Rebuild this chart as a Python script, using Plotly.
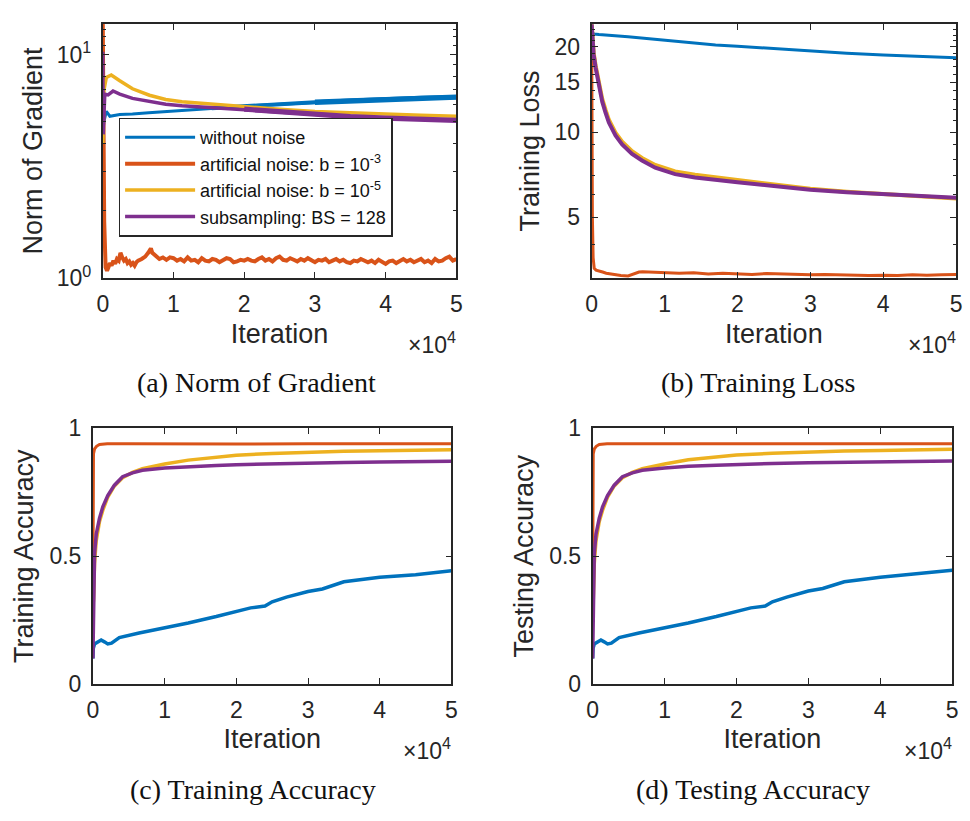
import plotly.graph_objects as go

# ---------------- data ----------------
series_names = ["without noise", "artificial noise: b = 10<sup>-3</sup>",
                "artificial noise: b = 10<sup>-5</sup>", "subsampling: BS = 128"]
colors = ["#0072BD", "#D95319", "#EDB120", "#7E2F8E"]

x_ticks = [0, 10000, 20000, 30000, 40000, 50000]
x_tick_text = ["0", "1", "2", "3", "4", "5"]

# (a) Norm of Gradient
a_blue_x = [0, 150, 500, 1000, 2400, 4200, 6500, 8900, 12000, 15400, 20000, 25000, 30000, 35000, 40000, 45000, 50000]
a_blue_y = [4.4, 5.0, 5.57, 5.3, 5.4, 5.42, 5.5, 5.57, 5.66, 5.76, 5.88, 6.0, 6.12, 6.22, 6.32, 6.4, 6.45]
a_orange_x = [0, 100, 200, 400, 600, 800, 1000, 1250, 1500, 1750, 2000, 2250, 2500, 2750, 3000, 3250, 3500, 3750,
              4000, 4250, 4500, 4750, 5000, 5500, 6000, 6500, 6800, 7000, 7500, 8000, 8500, 9000, 9500] + \
             list(range(10000, 50001, 500))
a_orange_y = [13.7, 5.0, 1.8, 1.12, 1.08, 1.12, 1.17, 1.14, 1.2, 1.16, 1.22, 1.2, 1.3, 1.24, 1.2, 1.22, 1.17, 1.19,
              1.15, 1.17, 1.14, 1.18, 1.2, 1.22, 1.25, 1.31, 1.36, 1.3, 1.26, 1.22, 1.24, 1.21, 1.24,
              1.23, 1.2, 1.22, 1.19, 1.24, 1.2, 1.21, 1.18, 1.23, 1.2, 1.19, 1.22, 1.21, 1.18, 1.2, 1.23, 1.22,
              1.18, 1.19, 1.21, 1.2, 1.22, 1.2, 1.19, 1.22, 1.24, 1.2, 1.22, 1.19, 1.23, 1.25, 1.21, 1.2, 1.23,
              1.21, 1.19, 1.22, 1.2, 1.23, 1.2, 1.18, 1.21, 1.2, 1.22, 1.18, 1.2, 1.22, 1.19, 1.21, 1.18, 1.17,
              1.2, 1.19, 1.22, 1.2, 1.18, 1.2, 1.17, 1.21, 1.19, 1.16, 1.19, 1.2, 1.17, 1.19, 1.22, 1.19, 1.21,
              1.18, 1.2, 1.22, 1.18, 1.2, 1.17, 1.22, 1.19, 1.2, 1.23, 1.25, 1.2, 1.22]
a_yellow_x = [0, 150, 500, 1200, 2400, 4200, 6600, 8900, 11200, 15400, 20000, 25000, 30000, 35000, 40000, 45000, 50000]
a_yellow_y = [4.0, 6.9, 7.9, 8.1, 7.64, 7.03, 6.58, 6.3, 6.15, 6.0, 5.85, 5.7, 5.56, 5.48, 5.4, 5.35, 5.3]
a_purple_x = [0, 60, 280, 750, 1450, 2400, 4200, 6600, 8900, 11200, 15400, 20000, 25000, 30000, 35000, 40000, 45000, 50000]
a_purple_y = [10.3, 4.4, 6.65, 6.6, 6.87, 6.65, 6.37, 6.15, 6.0, 5.9, 5.78, 5.7, 5.55, 5.4, 5.28, 5.2, 5.13, 5.08]

# (b) Training Loss
b_blue_x = [0, 100, 300, 1000, 5000, 10000, 17000, 20000, 25000, 30000, 35000, 40000, 45000, 50000]
b_blue_y = [24, 22.5, 22.2, 22.1, 21.7, 21.1, 20.3, 20.1, 19.7, 19.3, 19.0, 18.7, 18.5, 18.3]
b_orange_x = [0, 40, 100, 200, 350, 600, 1000, 1500, 2000, 3000, 4000, 5000, 5500, 6000, 6500, 7000, 8000, 9000,
              10000] + list(range(12000, 50001, 2000))
b_orange_y = [24, 10, 5, 3.6, 3.3, 3.25, 3.22, 3.2, 3.17, 3.14, 3.11, 3.1, 3.13, 3.17, 3.2, 3.21, 3.2, 3.19, 3.18,
              3.17, 3.18, 3.15, 3.17, 3.16, 3.14, 3.16, 3.15, 3.15, 3.13, 3.14, 3.13, 3.12, 3.11, 3.12, 3.11,
              3.13, 3.12, 3.13, 3.14]
b_curve_x = [0, 90, 270, 540, 1000, 1450, 1900, 2360, 3270, 4180, 5540, 6900, 8720, 10000, 11450, 14180, 17130,
             20000, 25000, 30000, 35000, 40000, 45000, 50000]
b_yellow_y = [24, 21.0, 19.1, 17.2, 14.7, 13.1, 12.0, 11.05, 9.95, 9.25, 8.55, 8.1, 7.65, 7.44, 7.26, 7.06, 6.92,
              6.78, 6.55, 6.3, 6.15, 6.04, 5.94, 5.82]
b_purple_y = [24, 20.8, 18.8, 16.9, 14.4, 12.8, 11.7, 10.8, 9.73, 9.04, 8.36, 7.93, 7.48, 7.28, 7.10, 6.91, 6.76,
              6.64, 6.45, 6.25, 6.13, 6.03, 5.95, 5.86]

# (c) Training Accuracy / (d) Testing Accuracy
acc_orange_x = [0, 30, 80, 230, 500, 920, 2000, 5000, 10000, 20000, 30000, 40000, 50000]
c_orange_y = [0.36, 0.75, 0.9, 0.92, 0.93, 0.937, 0.94, 0.94, 0.939, 0.939, 0.94, 0.94, 0.94]
d_orange_y = [0.35, 0.75, 0.9, 0.92, 0.93, 0.937, 0.94, 0.94, 0.939, 0.94, 0.94, 0.94, 0.94]
acc_curve_x = [0, 90, 230, 460, 920, 1380, 2070, 3000, 4140, 5520, 6900, 10000, 13300, 17200, 20000, 25000, 30000,
               35000, 40000, 45000, 50000]
c_yellow_y = [0.3, 0.333, 0.472, 0.56, 0.636, 0.68, 0.731, 0.775, 0.807, 0.828, 0.842, 0.861, 0.876, 0.889, 0.895,
              0.902, 0.907, 0.911, 0.913, 0.915, 0.917]
c_purple_y = [0.1, 0.3, 0.51, 0.586, 0.649, 0.693, 0.737, 0.778, 0.811, 0.826, 0.836, 0.845, 0.851, 0.855, 0.858,
              0.862, 0.865, 0.867, 0.869, 0.871, 0.872]
d_yellow_y = [0.3, 0.333, 0.472, 0.56, 0.636, 0.68, 0.731, 0.775, 0.807, 0.828, 0.842, 0.861, 0.877, 0.89, 0.896,
              0.903, 0.908, 0.912, 0.914, 0.916, 0.918]
d_purple_y = [0.1, 0.3, 0.51, 0.586, 0.649, 0.693, 0.737, 0.778, 0.811, 0.826, 0.836, 0.845, 0.852, 0.856, 0.859,
              0.863, 0.866, 0.868, 0.870, 0.872, 0.873]
acc_blue_x = [0, 60, 230, 700, 1150, 1600, 2070, 2600, 3680, 6440, 10000, 13300, 17200, 20000, 22000, 24000, 25000,
              27000, 30000, 32000, 35000, 40000, 45000, 50000]
c_blue_y = [0.1, 0.14, 0.157, 0.165, 0.172, 0.165, 0.157, 0.16, 0.182, 0.2, 0.22, 0.239, 0.264, 0.285, 0.298,
            0.305, 0.322, 0.34, 0.362, 0.372, 0.40, 0.418, 0.428, 0.443]
d_blue_y = [0.1, 0.14, 0.157, 0.165, 0.172, 0.165, 0.157, 0.16, 0.182, 0.2, 0.22, 0.239, 0.264, 0.285, 0.298,
            0.305, 0.322, 0.34, 0.364, 0.374, 0.40, 0.418, 0.43, 0.445]

captions = ["(a) Norm of Gradient", "(b) Training Loss", "(c) Training Accuracy", "(d) Testing Accuracy"]
y_titles = ["Norm of Gradient", "Training Loss", "Training Accuracy", "Testing Accuracy"]
x_title = "Iteration"

# ---------------- figure ----------------
W, H = 970, 821
fig = go.Figure()


def px(xp):
    return xp / W


def py(yp):
    return 1 - yp / H


panels = {
    # name: (left, right, top, bottom) in pixels
    1: (98, 456, 11, 274),
    2: (593, 962, 11, 274),
    3: (88, 451, 429, 693),
    4: (594, 958, 429, 693),
}


def add(k, x, y, ci, width=3, legend=False, start=None):
    if start is not None:
        pairs = [(a, b) for a, b in zip(x, y) if a >= start]
        x = [p[0] for p in pairs]
        y = [p[1] for p in pairs]
    fig.add_trace(go.Scatter(
        x=x, y=y, mode="lines", name=series_names[ci],
        line=dict(color=colors[ci], width=width),
        xaxis="x" if k == 1 else f"x{k}", yaxis="y" if k == 1 else f"y{k}",
        showlegend=legend, hoverinfo="skip"))


add(1, a_blue_x, a_blue_y, 0, 3, True)
add(1, a_blue_x, a_blue_y, 0, 4.2, start=15400)
add(1, a_blue_x, a_blue_y, 0, 5.4, start=30000)
add(1, a_orange_x, a_orange_y, 1, 4, True)
add(1, a_yellow_x, a_yellow_y, 2, 3.5, True)
add(1, a_purple_x, a_purple_y, 3, 3.5, True)
add(1, a_purple_x, a_purple_y, 3, 5.2, start=20000)

add(2, b_blue_x, b_blue_y, 0, 3)
add(2, b_orange_x, b_orange_y, 1, 3)
add(2, b_curve_x, b_yellow_y, 2, 4)
add(2, b_curve_x, b_purple_y, 3, 4)

add(3, acc_blue_x, c_blue_y, 0, 3.5)
add(3, acc_orange_x, c_orange_y, 1, 3)
add(3, acc_curve_x, c_yellow_y, 2, 3.5)
add(3, acc_curve_x, c_purple_y, 3, 3.5)

add(4, acc_blue_x, d_blue_y, 0, 3.5)
add(4, acc_orange_x, d_orange_y, 1, 3)
add(4, acc_curve_x, d_yellow_y, 2, 3.5)
add(4, acc_curve_x, d_purple_y, 3, 3.5)

AX = "#262626"
FONT = "Liberation Sans, Arial, sans-serif"
common = dict(showline=True, linecolor=AX, linewidth=1.8, mirror="ticks", ticks="inside", ticklen=6,
              tickwidth=1.4, tickcolor=AX, showgrid=False, zeroline=False,
              tickfont=dict(family=FONT, size=23, color=AX))

ytitle_standoff = [6, 7, 8, 8]

layout = {}
for i, (k, (l, r, t, b)) in enumerate(panels.items()):
    xa = dict(common, domain=[px(l), px(r)], range=[0, 50000], tickmode="array",
              tickvals=x_ticks, ticktext=x_tick_text, anchor="y" if k == 1 else f"y{k}",
              ticklabelstandoff=4,
              title=dict(text=x_title, standoff=8, font=dict(family=FONT, size=27, color=AX)))
    ya = dict(common, domain=[py(b), py(t)], anchor="x" if k == 1 else f"x{k}", ticklabelstandoff=5,
              title=dict(text=y_titles[i], standoff=ytitle_standoff[i], font=dict(family=FONT, size=27, color=AX)))
    if k == 1:
        ya.update(type="log", range=[0, 1.138], tickmode="array", tickvals=[1, 10],
                  ticktext=["10<sup>0</sup>", "10<sup>1</sup>"],
                  minor=dict(tickmode="array", tickvals=[2, 3, 4, 5, 6, 7, 8, 9, 11, 12, 13],
                             ticks="inside", ticklen=3, tickcolor=AX, showgrid=False))
    elif k == 2:
        ya.update(type="log", range=[0.483, 1.383], tickmode="array", tickvals=[5, 10, 15, 20],
                  ticktext=["5", "10", "15", "20"],
                  minor=dict(tickmode="array",
                             tickvals=[4, 6, 7, 8, 9, 11, 12, 13, 14, 16, 17, 18, 19, 21, 22, 23, 24],
                             ticks="inside", ticklen=3, tickcolor=AX, showgrid=False))
    else:
        ya.update(range=[0, 1], tickmode="array", tickvals=[0, 0.5, 1], ticktext=["0", "0.5", "1"])
    sx = "xaxis" if k == 1 else f"xaxis{k}"
    sy = "yaxis" if k == 1 else f"yaxis{k}"
    layout[sx] = xa
    layout[sy] = ya

annotations = []
cap_pos = [(254, 382), (761, 382), (250, 802), (756, 802)]
for i, k in enumerate(panels):
    l, r, t, b = panels[k]
    annotations.append(dict(text=captions[i], x=px(cap_pos[i][0]), y=py(cap_pos[i][1]), xref="paper", yref="paper",
                            showarrow=False, xanchor="center", yanchor="middle",
                            font=dict(family="Liberation Serif, Times New Roman, serif", size=28, color="#111")))
    annotations.append(dict(text="\u00d710<sup>4</sup>", x=px(r + 2), y=py(b + 67), xref="paper", yref="paper",
                            showarrow=False, xanchor="right", yanchor="middle",
                            font=dict(family=FONT, size=23, color=AX)))

fig.update_layout(
    width=W, height=H, margin=dict(l=0, r=0, t=0, b=0),
    paper_bgcolor="white", plot_bgcolor="white",
    annotations=annotations,
    legend=dict(x=px(114), y=py(108), xanchor="left", yanchor="top", bgcolor="white",
                bordercolor=AX, borderwidth=1.5, font=dict(family=FONT, size=18, color="#111"),
                tracegroupgap=0, itemwidth=70),
    **layout,
)

fig.write_html("out.html", config={"displayModeBar": False},
               post_script="document.body.style.margin='0';")
